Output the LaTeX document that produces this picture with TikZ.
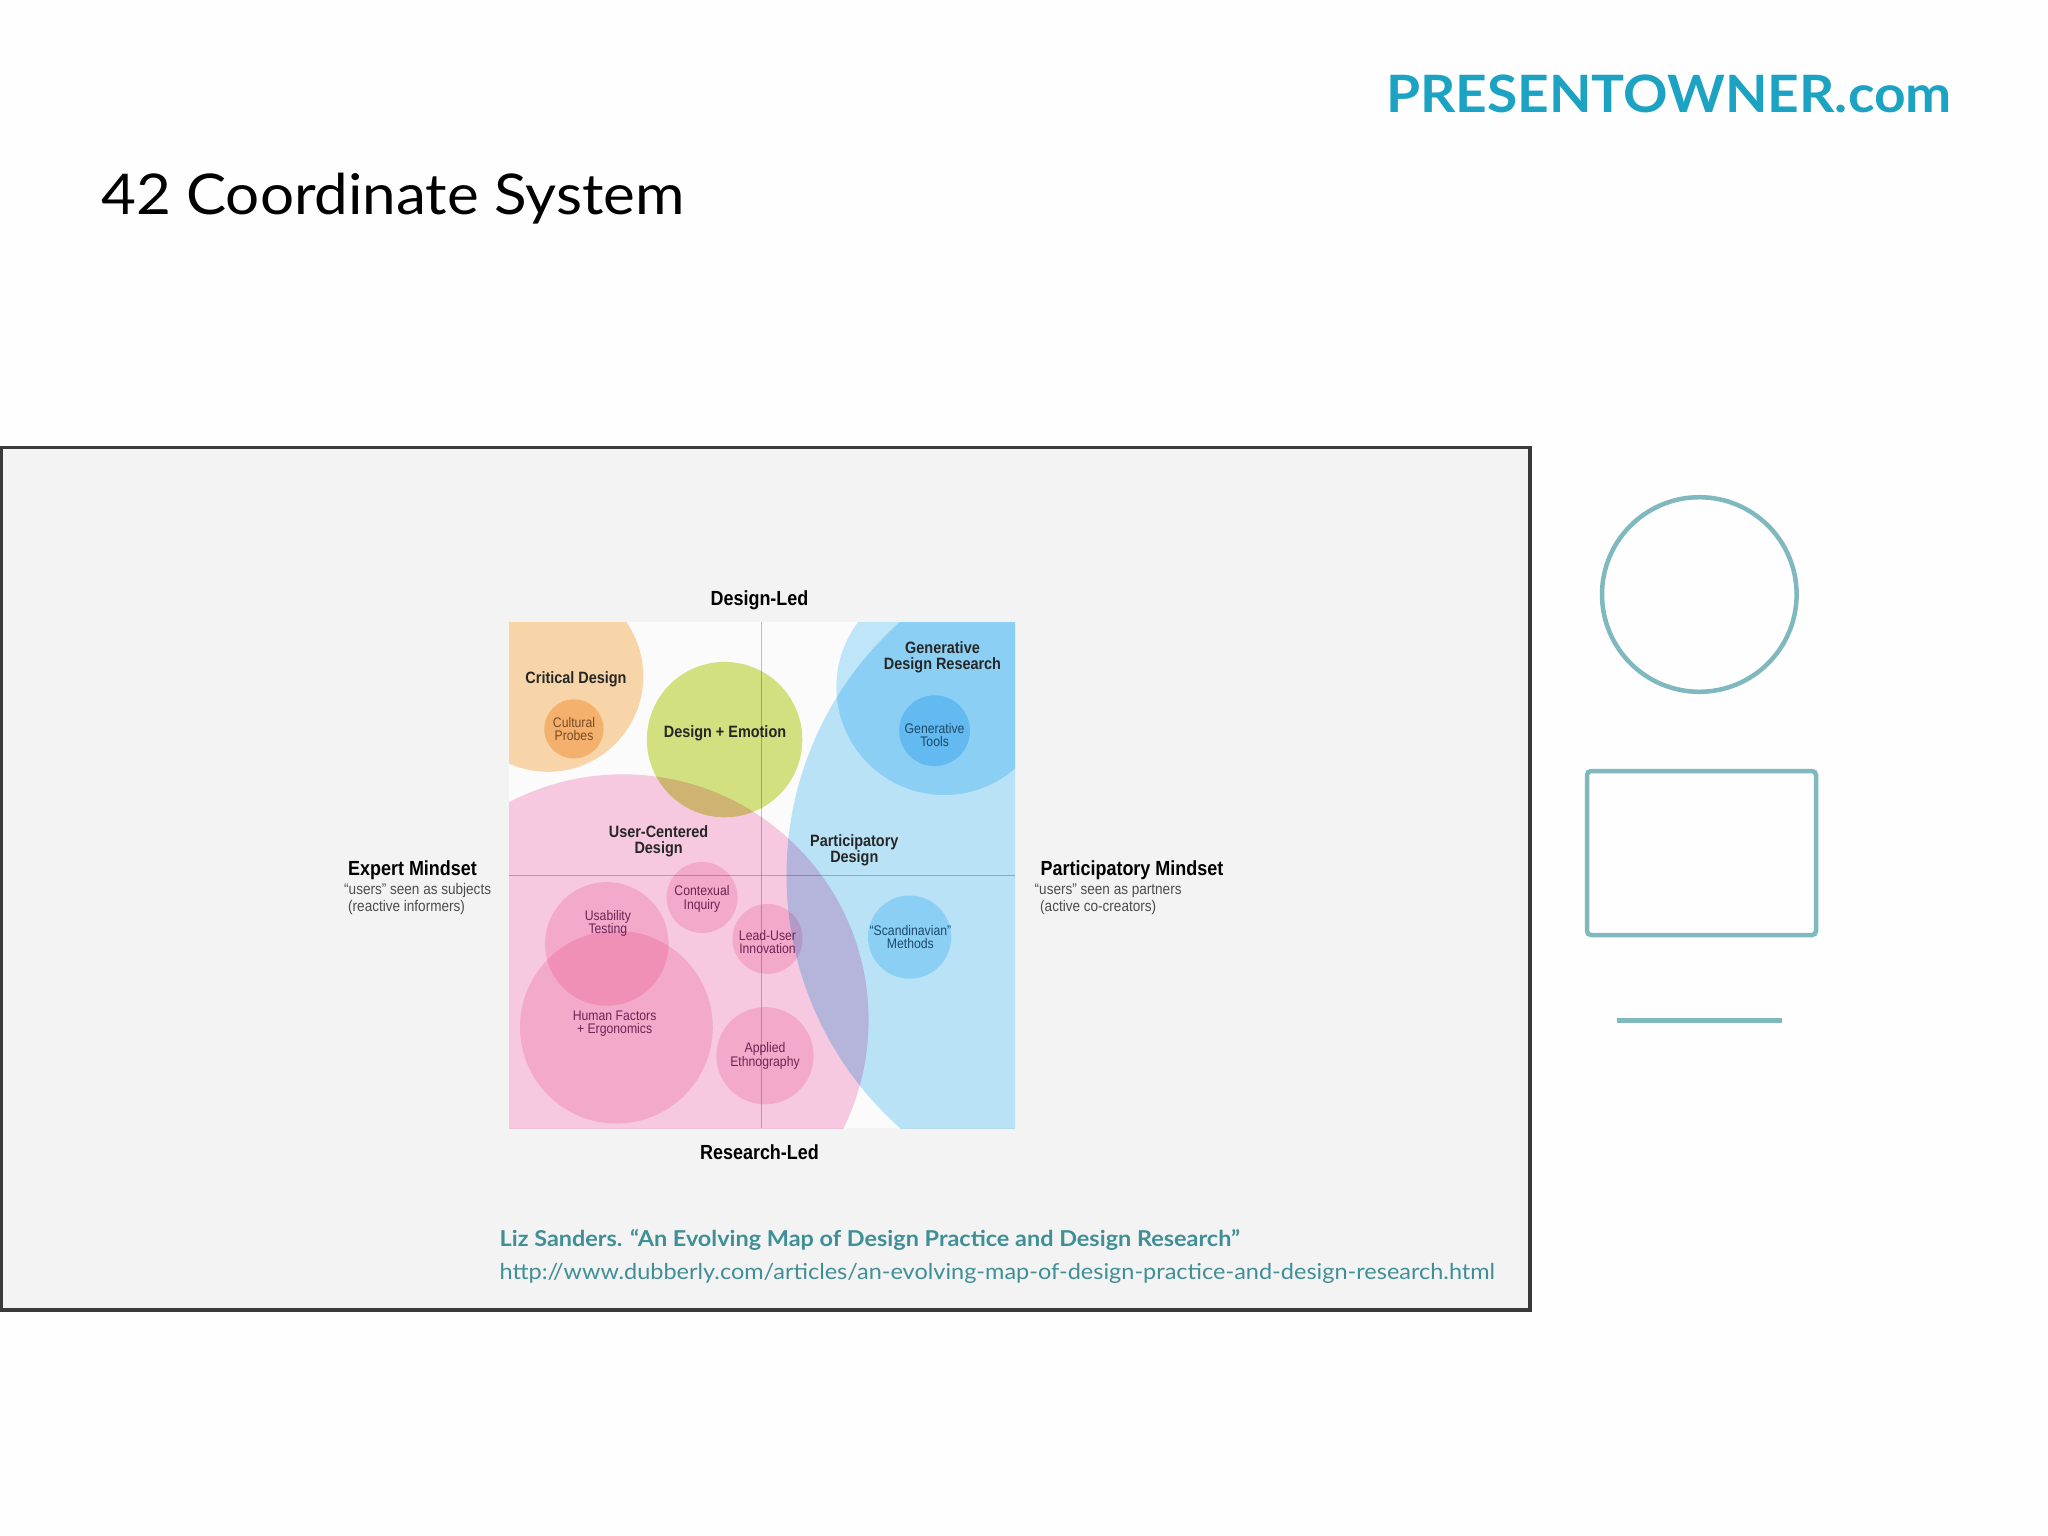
\documentclass[tikz,border=0pt]{standalone}
\usepackage{fontspec}
\setmainfont[FakeStretch=1.07]{Lato}
\newfontfamily\mapfont[FakeStretch=0.88]{Liberation Sans}
\definecolor{framegray}{HTML}{3A3A3A}
\definecolor{panelgray}{HTML}{F3F3F4}
\definecolor{plate}{HTML}{FBFBFB}
\definecolor{tealline}{HTML}{7FB8BF}
\definecolor{brandblue}{HTML}{1CA3C4}
\definecolor{citeteal}{HTML}{3F8F96}
\definecolor{orangea}{HTML}{FBD9AB}
\definecolor{orangeb}{HTML}{FCD4A6}
\definecolor{greena}{HTML}{D6E482}
\definecolor{bluea}{HTML}{BCE6FB}
\definecolor{blueb}{HTML}{B4E6FB}
\definecolor{bluec}{HTML}{C2EAFC}
\definecolor{pinka}{HTML}{FACDE4}
\definecolor{pinkb}{HTML}{FCD8E7}
\definecolor{axisgray}{HTML}{C4BEC8}
\definecolor{inkbrown}{HTML}{7A4A20}
\definecolor{inkpink}{HTML}{6D2350}
\definecolor{inkblue}{HTML}{1A4A6A}
\tikzset{
  blob/.style={blend mode=multiply,fill=#1},
  headlab/.style={inner sep=0,align=center,text=black!85,font=\mapfont\bfseries\fontsize{16.4}{16.4}\selectfont},
  axislab/.style={inner sep=0,align=center,text=black,font=\mapfont\bfseries\fontsize{20.4}{20}\selectfont},
  sidehead/.style={inner sep=0,anchor=west,text=black,font=\mapfont\bfseries\fontsize{20.4}{21}\selectfont},
  sidesub/.style={inner sep=0,anchor=west,text=black!70,font=\mapfont\fontsize{15.4}{16}\selectfont},
  smalllab/.style={inner sep=0,align=center,font=\mapfont\fontsize{13.9}{13.7}\selectfont},
}
\begin{document}
\begin{tikzpicture}[x=1pt,y=-1pt]
\useasboundingbox (0,0) rectangle (2048,1536);
\fill[white!99.5!black] (0,0) rectangle (2048,1536);
% panel
\draw[line width=3.5pt,draw=framegray,fill=panelgray] (1.5,447.5) rectangle (1530,1310);
\fill[plate] (509,622) rectangle (1015,1128);
% map
\begin{scope}
\clip (509,622) rectangle (1015,1128);
\fill[blob=orangea] (547.9,676.4) circle (95.4);
\fill[blob=orangeb] (573.9,728.9) circle (29.6);
\fill[blob=bluea] (1125.4,875) circle (338.9);
\fill[blob=bluec] (944.3,687.1) circle (107.9);
\fill[blob=blueb] (934.6,730.7) circle (35.4);
\fill[blob=bluec] (909.6,937.1) circle (41.6);
\fill[blob=pinka] (622.9,1020) circle (245.7);
\fill[blob=greena] (724.6,739.6) circle (77.7);
\fill[blob=pinkb] (606.8,943.9) circle (61.8);
\fill[blob=pinkb] (616.4,1027.1) circle (96.4);
\fill[blob=pinkb] (702.1,897.5) circle (35.5);
\fill[blob=pinkb] (767.5,938.9) circle (35);
\fill[blob=pinkb] (765,1055.7) circle (48.6);
\end{scope}
% axes
\coordinate (axtop) at (761.4,622);
\coordinate (axbot) at (761.4,1128);
\coordinate (axleft) at (509,875.7);
\coordinate (axright) at (1015,875.7);
\draw[line width=1pt,draw=axisgray,blend mode=multiply] (axtop) -- (axbot);
\draw[line width=1pt,draw=axisgray,blend mode=multiply] (axleft) -- (axright);
% labels in the map
\node[headlab] (critical) at (576,679){Critical Design};
\node[smalllab,text=inkbrown] (probes) at (574,729){Cultural\\Probes};
\node[headlab] (emotion) at (725,733.5){Design + Emotion};
\node[headlab] (gendesign) at (942.5,657){Generative\\Design Research};
\node[smalllab,text=inkblue] (gentools) at (934.6,735){Generative\\Tools};
\node[headlab] (usercent) at (658.6,841){User-Centered\\Design};
\node[headlab] (particip) at (854.3,850.5){Participatory\\Design};
\node[smalllab,text=inkpink] (inquiry) at (702,899){Contexual\\Inquiry};
\node[smalllab,text=inkpink] (usability) at (607.9,923.5){Usability\\Testing};
\node[smalllab,text=inkpink] (leaduser) at (767.5,942){Lead-User\\Innovation};
\node[smalllab,text=inkpink] (factors) at (614.6,1023.5){Human Factors\\+ Ergonomics};
\node[smalllab,text=inkpink] (applied) at (765,1056){Applied\\Ethnography};
\node[smalllab,text=inkblue] (scand) at (910.4,937){“Scandinavian”\\Methods};
% labels round the map
\node[axislab] (designled) at (759.5,600){Design-Led};
\node[axislab] (researchled) at (759.5,1152.5){Research-Led};
\node[sidehead] (expert) at (348,870.5){Expert Mindset};
\node[sidesub] (expsub) at (344,890.5){“users” seen as subjects};
\node[sidesub] (expinf) at (348,907.5){(reactive informers)};
\node[sidehead] (partmind) at (1040.5,870.5){Participatory Mindset};
\node[sidesub] (partsub) at (1034.5,890.5){“users” seen as partners};
\node[sidesub] (partcre) at (1040,907.5){(active co-creators)};
% citation
\node[inner sep=0,anchor=west,text=citeteal,font=\bfseries\fontsize{21.9}{24}\selectfont] (cite) at (499.5,1240){Liz Sanders. “An Evolving Map of Design Practice and Design Research”};
\node[inner sep=0,anchor=west,text=citeteal,font=\fontsize{21.95}{24}\selectfont] (url) at (499.5,1273.5){http://www.dubberly.com/articles/an-evolving-map-of-design-practice-and-design-research.html};
% title and brand
\node[inner sep=0,anchor=base west,text=black,font=\fontsize{56.2}{60}\selectfont] (title) at (101,214){42 Coordinate System};
\node[inner sep=0,anchor=base east,text=brandblue,font=\bfseries\fontsize{51.5}{56}\selectfont] (brand) at (1952,112.5){PRESENTOWNER.com};
% shapes at the side
\draw[line width=4.5pt,draw=tealline] (1699.3,594.5) circle (97.3);
\draw[line width=4.5pt,draw=tealline,rounded corners=4pt] (1587,771) rectangle (1816,935);
\coordinate (barleft) at (1616.7,1020);
\coordinate (barright) at (1781.7,1020);
\draw[line width=5pt,draw=tealline] (barleft) -- (barright);
\end{tikzpicture}
\end{document}
